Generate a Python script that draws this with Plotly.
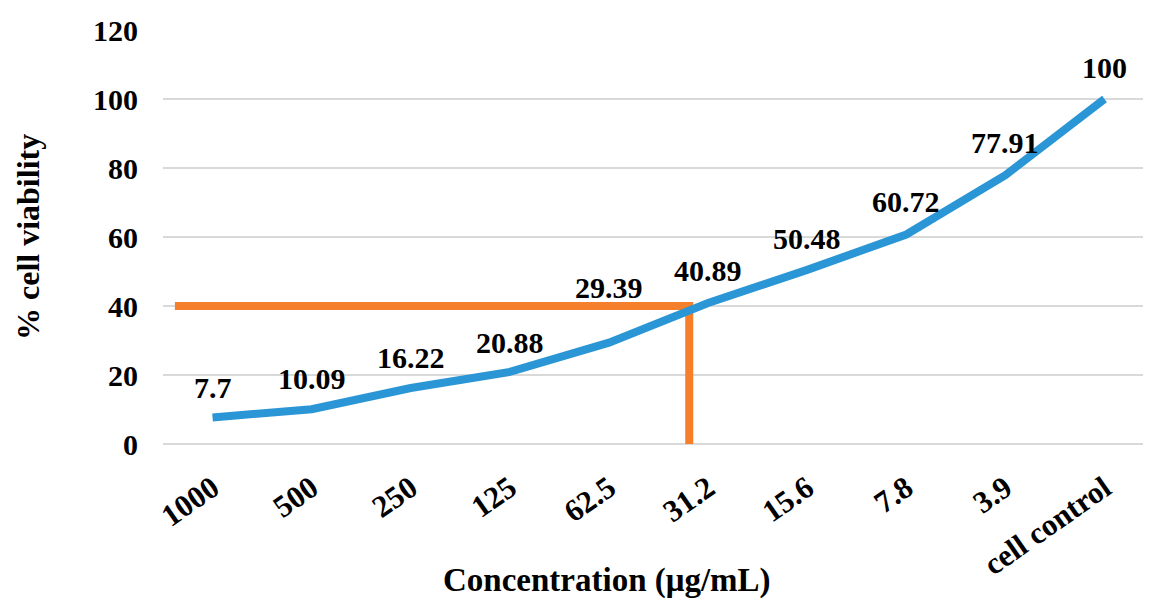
import plotly.graph_objects as go

categories = ["1000", "500", "250", "125", "62.5", "31.2", "15.6", "7.8", "3.9", "cell control"]
viability = [7.7, 10.09, 16.22, 20.88, 29.39, 40.89, 50.48, 60.72, 77.91, 100]
y_ticks = [0, 20, 40, 60, 80, 100, 120]

# IC reference lines (orange): horizontal at 40 % viability, vertical at ~31 µg/mL
ref_level = 40
ref_x_start = -0.38
ref_x = 4.81

label_yshift = [30, 31, 31, 29, 55, 32, 31, 33, 33, 32]

FONT = "Liberation Serif, Times New Roman, serif"
BLUE = "#2B96D5"
ORANGE = "#F57F2A"

x_idx = list(range(len(categories)))

fig = go.Figure()
fig.add_trace(go.Scatter(x=[ref_x_start, ref_x, ref_x], y=[ref_level, ref_level, 0],
                         mode="lines", line=dict(color=ORANGE, width=8),
                         hoverinfo="skip", showlegend=False))
fig.add_trace(go.Scatter(x=x_idx, y=viability, mode="lines",
                         line=dict(color=BLUE, width=8, shape="linear"),
                         showlegend=False))

for xi, v, ys in zip(x_idx, viability, label_yshift):
    fig.add_annotation(x=xi, y=v, text=str(v), showarrow=False,
                       yshift=ys, font=dict(family=FONT, size=30, color="black", weight="bold"))

fig.add_annotation(text="% cell viability", xref="paper", yref="paper",
                   x=0, y=0.5, xshift=-155, textangle=-90, showarrow=False,
                   font=dict(family=FONT, size=32, color="black", weight="bold"))
fig.add_annotation(text="Concentration (μg/mL)", xref="paper", yref="paper",
                   x=0.446, y=-0.33, yanchor="middle", showarrow=False,
                   font=dict(family=FONT, size=33, color="black", weight="bold"))

fig.update_layout(
    width=1151, height=603,
    margin=dict(l=155, r=0, t=22, b=167),
    paper_bgcolor="white", plot_bgcolor="white",
    xaxis=dict(range=[-0.5, 9.55], tickmode="array", tickvals=x_idx, ticktext=categories,
               tickangle=-35, showgrid=False, zeroline=False, showline=False,
               ticklabelstandoff=19,
               tickfont=dict(family=FONT, size=31, color="black", weight="bold"), ticks=""),
    yaxis=dict(range=[0, 120], tickvals=y_ticks, showgrid=True, gridcolor="#D9D9D9",
               gridwidth=2, zeroline=True, zerolinecolor="#D9D9D9", zerolinewidth=2,
               showline=False, ticks="", ticklabelstandoff=24,
               tickfont=dict(family=FONT, size=30, color="black", weight="bold")),
)

fig.write_html("out.html")
